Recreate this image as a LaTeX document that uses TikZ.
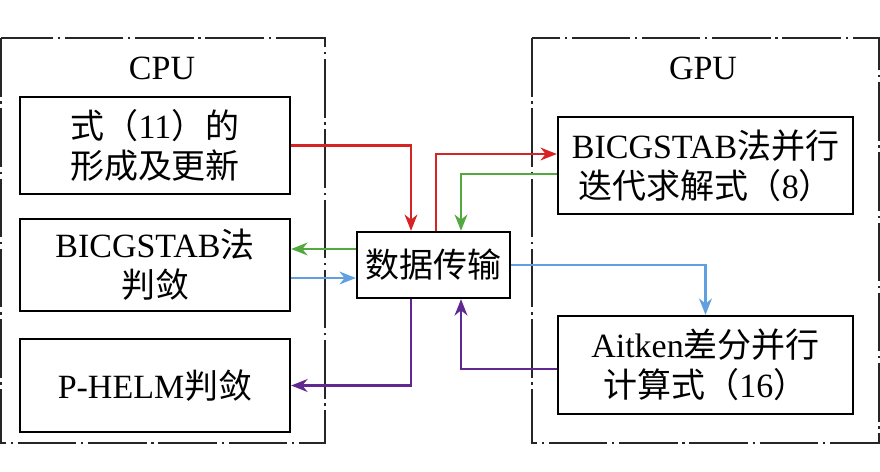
\documentclass[tikz,border=0pt]{standalone}
\usepackage{fontspec}
\setmainfont{Liberation Serif}
\newfontfamily\cjk{Noto Sans CJK SC}
\usepackage{tikz}
\usetikzlibrary{arrows.meta}
\definecolor{linkred}{RGB}{214,36,36}
\definecolor{linkgreen}{RGB}{84,168,64}
\definecolor{linkblue}{RGB}{96,160,224}
\definecolor{linkpurple}{RGB}{96,40,144}

\begin{document}
\begin{tikzpicture}[
    x=0.03cm, y=-0.03cm,
    >={Stealth[length=14pt,width=11pt,inset=4.5pt]},
    line width=1.8pt,
    font=\fontsize{29pt}{34pt}\selectfont,
    box/.style={rectangle, draw, line width=2pt, inner sep=0pt, align=center},
    side/.style={draw=black!85, line width=1.2pt, dash pattern=on 50pt off 4pt on 2pt off 4pt}
]
  \useasboundingbox (0,0) rectangle (880,471);

  % host and device
  \draw[side] (1,38) rectangle (325,443);
  \draw[side] (532,38) rectangle (879,443);
  \node (cpu) at (162,68) {CPU};
  \node (gpu) at (703,68) {GPU};

  % nodes
  \node[box, minimum width=8.1cm, minimum height=2.91cm] (form) at (155,145.5)
    {{\cjk 式（}11{\cjk ）的}\\{\cjk 形成及更新}};
  \node[box, minimum width=8.1cm, minimum height=2.76cm] (judge) at (155,265)
    {BICGSTAB{\cjk 法}\\{\cjk 判敛}};
  \node[box, minimum width=8.1cm, minimum height=2.79cm] (helm) at (155,385.5)
    {P-HELM{\cjk 判敛}};
  \node[box, minimum width=4.59cm, minimum height=1.98cm] (trans) at (433.5,265)
    {\cjk 数据传输};
  \node[box, minimum width=8.85cm, minimum height=2.91cm] (solve) at (705.5,165.5)
    {BICGSTAB{\cjk 法并行}\\{\cjk 迭代求解式（}8{\cjk ）}};
  \node[box, minimum width=8.85cm, minimum height=2.94cm] (aitken) at (705.5,365)
    {Aitken{\cjk 差分并行}\\{\cjk 计算式（}16{\cjk ）}};

  % edges
  \draw[->, linkred] (form.east) -| ([xshift=-0.675cm]trans.north);
  \draw[->, linkred] ([xshift=0.075cm]trans.north) |- ([yshift=0.345cm]solve.west);
  \draw[->, linkgreen] ([yshift=-0.255cm]solve.west) -| ([xshift=0.825cm]trans.north);
  \draw[->, linkgreen] ([yshift=0.48cm]trans.west) -- ([yshift=0.48cm]judge.east);
  \draw[->, linkblue] ([yshift=-0.39cm]judge.east) -- ([yshift=-0.39cm]trans.west);
  \draw[->, linkblue] (trans.east) -| (aitken.north);
  \draw[->, linkpurple] ([xshift=-0.675cm]trans.south) |- (helm.east);
  \draw[->, linkpurple] ([yshift=-0.12cm]aitken.west) -| ([xshift=0.825cm]trans.south);
\end{tikzpicture}
\end{document}
